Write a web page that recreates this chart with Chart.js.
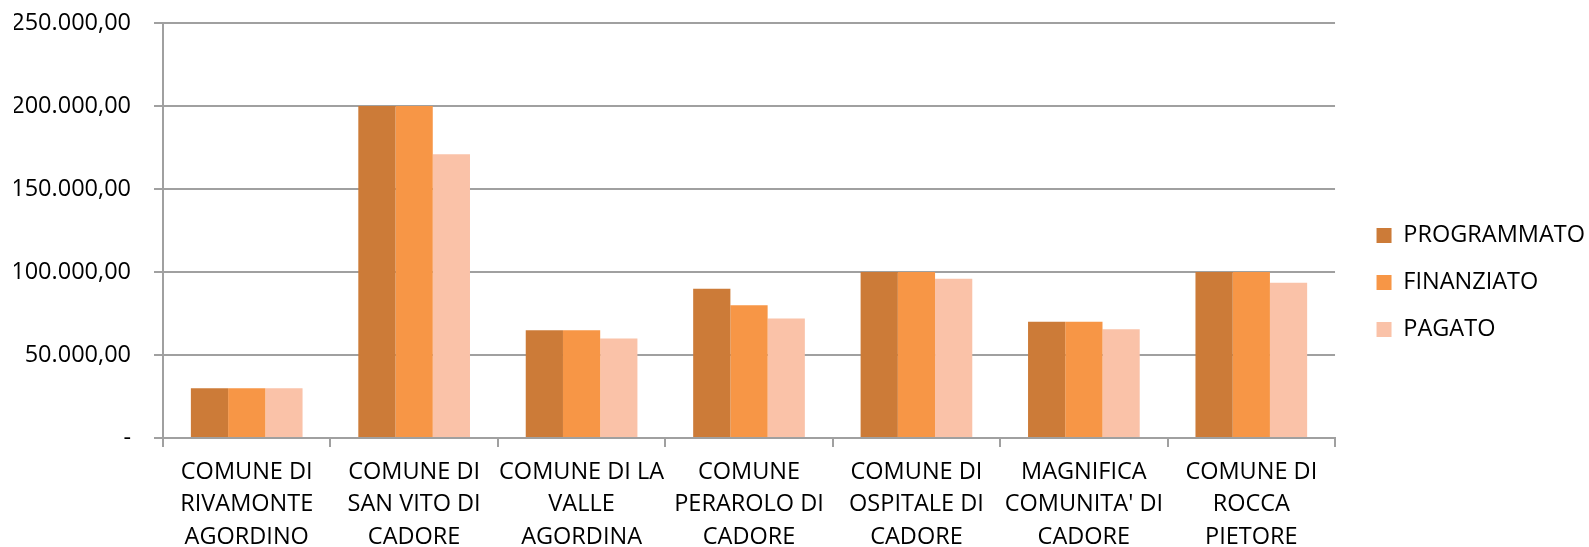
<!DOCTYPE html>
<html>
<head>
<meta charset="utf-8">
<script src="https://cdn.jsdelivr.net/npm/chart.js@4/dist/chart.umd.min.js"></script>
<style>
  html, body { margin: 0; padding: 0; background: #fff; }
  #wrap { width: 1589px; height: 547px; position: relative; }
</style>
</head>
<body>
<div id="wrap"><canvas id="chart"></canvas></div>
<script>
// categorie (comuni)
const categories = [
  ['COMUNE DI', 'RIVAMONTE', 'AGORDINO'],
  ['COMUNE DI', 'SAN VITO DI', 'CADORE'],
  ['COMUNE DI LA', 'VALLE', 'AGORDINA'],
  ['COMUNE', 'PERAROLO DI', 'CADORE'],
  ['COMUNE DI', 'OSPITALE DI', 'CADORE'],
  ['MAGNIFICA', "COMUNITA' DI", 'CADORE'],
  ['COMUNE DI', 'ROCCA', 'PIETORE']
];

const programmato = [30000, 200000, 65000, 90000, 100000, 70000, 100000];
const finanziato  = [30000, 200000, 65000, 80000, 100000, 70000, 100000];
const pagato      = [30000, 171000, 60000, 72000,  96000, 65500,  93500];

const yTicks = [0, 50000, 100000, 150000, 200000, 250000];

const fmt = v => v === 0 ? '-' :
  v.toLocaleString('it-IT', { minimumFractionDigits: 2, maximumFractionDigits: 2 });

const FAMILY = "'Open Sans', sans-serif";
const GRID = '#a0a0a0';

new Chart(document.getElementById('chart'), {
  type: 'bar',
  data: {
    labels: categories,
    datasets: [
      { label: 'PROGRAMMATO', data: programmato, backgroundColor: '#cc7b38' },
      { label: 'FINANZIATO',  data: finanziato,  backgroundColor: '#f79646' },
      { label: 'PAGATO',      data: pagato,      backgroundColor: '#fac2a8' }
    ]
  },
  options: {
    responsive: true, maintainAspectRatio: false, animation: false,
    layout: { padding: { left: 14, top: 0, right: -6, bottom: -6 } },
    datasets: { bar: { barPercentage: 1, categoryPercentage: 0.667 } },
    plugins: {
      legend: {
        position: 'right',
        title: { display: true, text: ' ', padding: 0, font: { size: 10, lineHeight: 1.2 } },
        labels: { font: { family: FAMILY, size: 23.5 }, color: '#000', boxWidth: 15, boxHeight: 15, padding: 23.5 }
      },
      tooltip: { enabled: false }
    },
    scales: {
      x: {
        grid: { drawOnChartArea: false, drawTicks: true, tickLength: 9, color: GRID, lineWidth: 2 },
        border: { color: GRID, width: 2 },
        ticks: { font: { family: FAMILY, size: 23.5, lineHeight: 1.38 }, color: '#000',
                 maxRotation: 0, autoSkip: false, padding: 9 },
        afterFit: s => { s.height = 115; }
      },
      y: {
        min: 0, max: 250000,
        afterBuildTicks: axis => { axis.ticks = yTicks.map(v => ({ value: v })); },
        grid: { color: GRID, lineWidth: 2, tickLength: 9 },
        border: { color: GRID, width: 2 },
        ticks: { font: { family: FAMILY, size: 23.5, lineHeight: 0.01 }, color: '#000',
                 padding: 23, callback: v => fmt(v) },
        afterFit: s => { s.width = 149; }
      },
      // spaziatore tra area del grafico e legenda
      gap: {
        type: 'linear', position: 'right', display: true,
        grid: { display: false }, border: { display: false }, ticks: { display: false },
        afterFit: s => { s.width = 18; }
      }
    }
  }
});
</script>
</body>
</html>
